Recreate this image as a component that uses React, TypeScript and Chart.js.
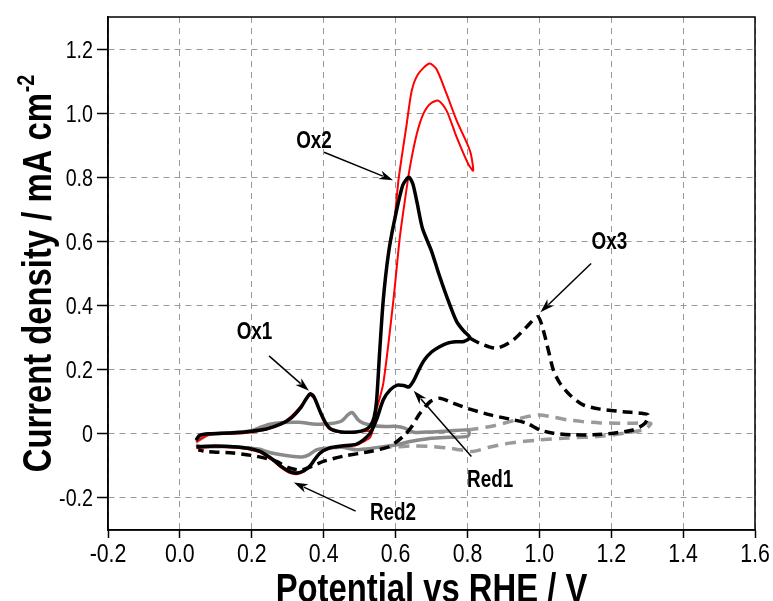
import React, { useEffect, useRef } from 'react';
import { Chart, registerables } from 'chart.js';

Chart.register(...registerables);

const FONT = "'Liberation Sans', Arial, sans-serif";
const NARROW = 0.82;

// Axis ticks
const xTickValues = [-0.2, 0, 0.2, 0.4, 0.6, 0.8, 1.0, 1.2, 1.4, 1.6];
const xTickLabels = ['-0.2', '0.0', '0.2', '0.4', '0.6', '0.8', '1.0', '1.2', '1.4', '1.6'];
const yTickValues = [-0.2, 0, 0.2, 0.4, 0.6, 0.8, 1.0, 1.2];
const yTickLabels = ['-0.2', '0', '0.2', '0.4', '0.6', '0.8', '1.0', '1.2'];

const xTitle = 'Potential vs RHE / V';
const yTitle = 'Current density / mA cm';
const yTitleSup = '-2';

// Black solid CV (to 0.8 V)
const blackSolidE = [
  0.045, 0.055, 0.08, 0.15, 0.2, 0.24, 0.28, 0.31, 0.335, 0.352, 0.363, 0.373, 0.39, 0.405, 0.42, 0.45, 0.49,
  0.515, 0.53, 0.54, 0.547, 0.556, 0.566, 0.58, 0.596, 0.62, 0.637, 0.648, 0.66, 0.675, 0.7, 0.72, 0.745, 0.77,
  0.79, 0.807,
  0.79, 0.77, 0.745, 0.72, 0.7, 0.68, 0.665, 0.65, 0.637, 0.625, 0.605, 0.585, 0.566, 0.547, 0.53, 0.51, 0.49,
  0.45, 0.417, 0.39, 0.375, 0.362, 0.345, 0.325, 0.305, 0.28, 0.26, 0.24, 0.223, 0.19, 0.148, 0.1, 0.046,
];
const blackSolidJ = [
  -0.02, -0.005, 0.0, 0.003, 0.008, 0.015, 0.03, 0.05, 0.08, 0.11, 0.125, 0.115, 0.07, 0.035, 0.015, 0.006, 0.006,
  0.012, 0.025, 0.05, 0.1, 0.26, 0.42, 0.56, 0.66, 0.775, 0.8, 0.78, 0.72, 0.64, 0.57, 0.5, 0.42, 0.35,
  0.32, 0.3,
  0.288, 0.287, 0.283, 0.27, 0.255, 0.23, 0.2, 0.165, 0.146, 0.15, 0.152, 0.137, 0.106, 0.044, 0.003, -0.02, -0.033,
  -0.038, -0.044, -0.06, -0.08, -0.1, -0.115, -0.122, -0.118, -0.1, -0.081, -0.066, -0.055, -0.045, -0.04, -0.038, -0.04,
];

// Black dashed CV extension (to 1.3 V)
const blackDashE = [
  0.807, 0.835, 0.881, 0.927, 0.965, 0.996, 1.011, 1.025, 1.039, 1.057, 1.085, 1.122, 1.169, 1.233, 1.285, 1.303,
  1.294, 1.261, 1.206, 1.15, 1.094, 1.039, 1.002, 0.965, 0.918, 0.863, 0.798, 0.751, 0.723, 0.696, 0.668, 0.645,
  0.626, 0.584, 0.529, 0.454, 0.399, 0.37, 0.335, 0.3, 0.269, 0.213, 0.148, 0.074, 0.051,
];
const blackDashJ = [
  0.298, 0.282, 0.267, 0.292, 0.334, 0.365, 0.323, 0.261, 0.199, 0.158, 0.121, 0.09, 0.077, 0.069, 0.064, 0.059,
  0.033, 0.012, 0.002, -0.003, -0.003, 0.002, 0.012, 0.033, 0.046, 0.059, 0.08, 0.1, 0.111, 0.1, 0.064, 0.023,
  -0.003, -0.039, -0.055, -0.07, -0.086, -0.1, -0.113, -0.105, -0.086, -0.07, -0.06, -0.055, -0.05,
];

// Red CV
const redE = [
  0.045, 0.08, 0.15, 0.2, 0.24, 0.28, 0.31, 0.335, 0.352, 0.363, 0.375, 0.39, 0.405, 0.42, 0.45, 0.49, 0.515,
  0.533, 0.547, 0.566, 0.594, 0.612, 0.626, 0.64, 0.659, 0.677, 0.696, 0.719, 0.742, 0.77, 0.802, 0.816,
  0.807, 0.77, 0.742, 0.714, 0.694, 0.663, 0.645, 0.631, 0.617, 0.608, 0.596, 0.58, 0.566, 0.556, 0.547, 0.54,
  0.53, 0.51, 0.49, 0.45, 0.417, 0.39, 0.375, 0.362, 0.345, 0.325, 0.305, 0.28, 0.26, 0.24, 0.223, 0.19, 0.148,
  0.1, 0.046,
];
const redJ = [
  -0.025, -0.003, 0.0, 0.005, 0.013, 0.03, 0.055, 0.085, 0.11, 0.12, 0.108, 0.065, 0.03, 0.012, 0.004, 0.005, 0.008,
  0.012, 0.075, 0.158, 0.417, 0.614, 0.728, 0.832, 0.935, 0.997, 1.029, 1.039, 1.008, 0.925, 0.842, 0.821,
  0.883, 0.977, 1.06, 1.137, 1.155, 1.122, 1.07, 0.966, 0.862, 0.79, 0.66, 0.56, 0.42, 0.26, 0.1, 0.03,
  -0.01, -0.025, -0.036, -0.04, -0.046, -0.062, -0.082, -0.102, -0.118, -0.126, -0.122, -0.104, -0.085, -0.07,
  -0.058, -0.048, -0.043, -0.04, -0.045,
];

// Gray solid CV (to 0.8 V)
const graySolidE = [
  0.045, 0.08, 0.15, 0.2, 0.223, 0.25, 0.287, 0.33, 0.38, 0.42, 0.45, 0.468, 0.48, 0.495, 0.51, 0.54, 0.57, 0.603,
  0.625, 0.65, 0.7, 0.75, 0.8, 0.805,
  0.8, 0.75, 0.7, 0.66, 0.64, 0.6, 0.566, 0.52, 0.49, 0.45, 0.41, 0.38, 0.36, 0.34, 0.31, 0.27, 0.24, 0.223,
  0.148, 0.06, 0.045,
];
const graySolidJ = [
  -0.025, -0.002, 0.004, 0.01, 0.02, 0.03, 0.035, 0.036, 0.03, 0.032, 0.04, 0.06, 0.066, 0.045, 0.033, 0.025, 0.023,
  0.023, 0.018, 0.005, 0.006, 0.009, 0.012, 0.002,
  -0.008, -0.011, -0.014, -0.02, -0.024, -0.035, -0.04, -0.047, -0.05, -0.042, -0.045, -0.05, -0.065, -0.072,
  -0.07, -0.063, -0.055, -0.048, -0.04, -0.04, -0.035,
];

// Gray dashed CV extension (to 1.3 V)
const grayDashE = [
  0.8, 0.86, 0.918, 0.96, 1.0, 1.04, 1.076, 1.12, 1.17, 1.26, 1.31, 1.295, 1.26, 1.17, 1.08, 1.0, 0.918, 0.86,
  0.815, 0.78, 0.75, 0.705, 0.65, 0.612, 0.566,
];
const grayDashJ = [
  0.012, 0.022, 0.038, 0.052, 0.059, 0.052, 0.044, 0.038, 0.034, 0.033, 0.033, 0.015, 0.006, -0.008, -0.013, -0.019,
  -0.029, -0.042, -0.055, -0.05, -0.045, -0.04, -0.038, -0.04, -0.042,
];

// Annotations (data coordinates)
const annotationLabels = ['Ox1', 'Ox2', 'Ox3', 'Red1', 'Red2'];
const labelE = [0.2075, 0.373, 1.195, 0.863, 0.593];
const labelJ = [0.296, 0.891, 0.576, -0.165, -0.268];
const arrowFromE = [0.248, 0.401, 1.144, 0.811, 0.489];
const arrowFromJ = [0.243, 0.878, 0.531, -0.071, -0.241];
const arrowToE = [0.359, 0.593, 1.003, 0.6505, 0.317];
const arrowToJ = [0.134, 0.791, 0.379, 0.1345, -0.152];

const pts = (e: number[], j: number[]) => e.map((x, i) => ({ x, y: j[i] }));

function narrowText(ctx: CanvasRenderingContext2D, text: string, x: number, y: number, font: string, align: CanvasTextAlign) {
  ctx.save();
  ctx.translate(x, y);
  ctx.scale(NARROW, 1);
  ctx.font = font;
  ctx.textAlign = align;
  ctx.textBaseline = 'alphabetic';
  ctx.fillText(text, 0, 0);
  ctx.restore();
}

const framePlugin = {
  id: 'frame',
  afterDraw(chart: any) {
    const { ctx, chartArea } = chart;
    ctx.save();
    ctx.strokeStyle = '#000';
    ctx.lineWidth = 1.5;
    ctx.setLineDash([]);
    ctx.strokeRect(chartArea.left, chartArea.top, chartArea.right - chartArea.left, chartArea.bottom - chartArea.top);
    ctx.restore();
  },
};

const tickLabelPlugin = {
  id: 'tickLabels',
  afterDraw(chart: any) {
    const { ctx, scales, chartArea } = chart;
    ctx.save();
    ctx.fillStyle = '#000';
    xTickValues.forEach((v, i) => {
      narrowText(ctx, xTickLabels[i], scales.x.getPixelForValue(v), chartArea.bottom + 32, `26px ${FONT}`, 'center');
    });
    yTickValues.forEach((v, i) => {
      narrowText(ctx, yTickLabels[i], chartArea.left - 15, scales.y.getPixelForValue(v) + 8.5, `24px ${FONT}`, 'right');
    });
    ctx.restore();
  },
};

const annotationPlugin = {
  id: 'annots',
  afterDatasetsDraw(chart: any) {
    const { ctx, scales } = chart;
    const xs = scales.x;
    const ys = scales.y;
    ctx.save();
    ctx.fillStyle = '#000';
    ctx.strokeStyle = '#000';
    annotationLabels.forEach((t, i) => {
      narrowText(ctx, t, xs.getPixelForValue(labelE[i]), ys.getPixelForValue(labelJ[i]), `bold 23px ${FONT}`, 'center');
      const x1 = xs.getPixelForValue(arrowFromE[i]);
      const y1 = ys.getPixelForValue(arrowFromJ[i]);
      const x2 = xs.getPixelForValue(arrowToE[i]);
      const y2 = ys.getPixelForValue(arrowToJ[i]);
      const ang = Math.atan2(y2 - y1, x2 - x1);
      const L = 14;
      const W = 4.5;
      const bx = x2 - L * Math.cos(ang);
      const by = y2 - L * Math.sin(ang);
      ctx.lineWidth = 1.5;
      ctx.beginPath();
      ctx.moveTo(x1, y1);
      ctx.lineTo(bx + 3 * Math.cos(ang), by + 3 * Math.sin(ang));
      ctx.stroke();
      ctx.beginPath();
      ctx.moveTo(x2, y2);
      ctx.lineTo(bx - W * Math.sin(ang), by + W * Math.cos(ang));
      ctx.lineTo(bx + 4 * Math.cos(ang), by + 4 * Math.sin(ang));
      ctx.lineTo(bx + W * Math.sin(ang), by - W * Math.cos(ang));
      ctx.closePath();
      ctx.fill();
    });
    ctx.restore();
  },
};

const titlePlugin = {
  id: 'titles',
  afterDraw(chart: any) {
    const { ctx, chartArea } = chart;
    ctx.save();
    ctx.fillStyle = '#000';
    narrowText(ctx, xTitle, (chartArea.left + chartArea.right) / 2, 602, `bold 40px ${FONT}`, 'center');
    // y title (rotated)
    ctx.font = `bold 40px ${FONT}`;
    const mainW = ctx.measureText(yTitle).width * NARROW;
    ctx.font = `bold 24px ${FONT}`;
    const supW = ctx.measureText(yTitleSup).width * NARROW;
    const total = mainW + supW + 1;
    const cy = (chartArea.top + chartArea.bottom) / 2;
    ctx.translate(51, cy + total / 2);
    ctx.rotate(-Math.PI / 2);
    narrowText(ctx, yTitle, 0, 0, `bold 40px ${FONT}`, 'left');
    narrowText(ctx, yTitleSup, mainW + 1, -17, `bold 24px ${FONT}`, 'left');
    ctx.restore();
  },
};

export default function App() {
  const ref = useRef<HTMLCanvasElement | null>(null);
  useEffect(() => {
    if (!ref.current) return;
    const common = { pointRadius: 0, pointHoverRadius: 0, fill: false, tension: 0.25, borderJoinStyle: 'round' as const };
    const chart = new Chart(ref.current, {
      type: 'line',
      data: {
        datasets: [
          { label: 'black', data: pts(blackSolidE, blackSolidJ), borderColor: '#000000', borderWidth: 3.5, ...common },
          { label: 'black dashed', data: pts(blackDashE, blackDashJ), borderColor: '#000000', borderWidth: 3.5, borderDash: [10, 6], ...common },
          { label: 'red', data: pts(redE, redJ), borderColor: '#ff0000', borderWidth: 2, ...common },
          { label: 'gray', data: pts(graySolidE, graySolidJ), borderColor: '#8a8a8a', borderWidth: 3.5, ...common },
          { label: 'gray dashed', data: pts(grayDashE, grayDashJ), borderColor: '#9a9a9a', borderWidth: 3.5, borderDash: [11, 7], ...common },
        ],
      },
      options: {
        animation: false,
        responsive: false,
        events: [],
        layout: { padding: { top: 17, right: 18, left: 0, bottom: 0 } },
        plugins: { legend: { display: false }, tooltip: { enabled: false }, title: { display: false } },
        scales: {
          x: {
            type: 'linear',
            min: -0.2,
            max: 1.6,
            afterBuildTicks: (s: any) => { s.ticks = xTickValues.map((v) => ({ value: v })); },
            afterFit: (s: any) => { s.height = 71; },
            ticks: { display: false },
            grid: { color: '#9a9a9a', lineWidth: 1, tickLength: 8, tickColor: '#000', tickWidth: 1.5, tickBorderDash: [] } as any,
            border: { display: true, color: '#000', width: 1.5, dash: [6, 5] },
          },
          y: {
            type: 'linear',
            min: -0.3,
            max: 1.3,
            afterBuildTicks: (s: any) => { s.ticks = yTickValues.map((v) => ({ value: v })); },
            afterFit: (s: any) => { s.width = 108; },
            ticks: { display: false },
            grid: { color: '#9a9a9a', lineWidth: 1, tickLength: 11, tickColor: '#000', tickWidth: 1.5, tickBorderDash: [] } as any,
            border: { display: true, color: '#000', width: 1.5, dash: [6, 5] },
          },
        },
      },
      plugins: [framePlugin, annotationPlugin, tickLabelPlugin, titlePlugin],
    });
    return () => chart.destroy();
  }, []);
  return (
    <div style={{ position: 'absolute', left: 0, top: 0, width: 773, height: 601, background: '#fff' }}>
      <canvas ref={ref} width={773} height={601} style={{ display: 'block' }} />
    </div>
  );
}
